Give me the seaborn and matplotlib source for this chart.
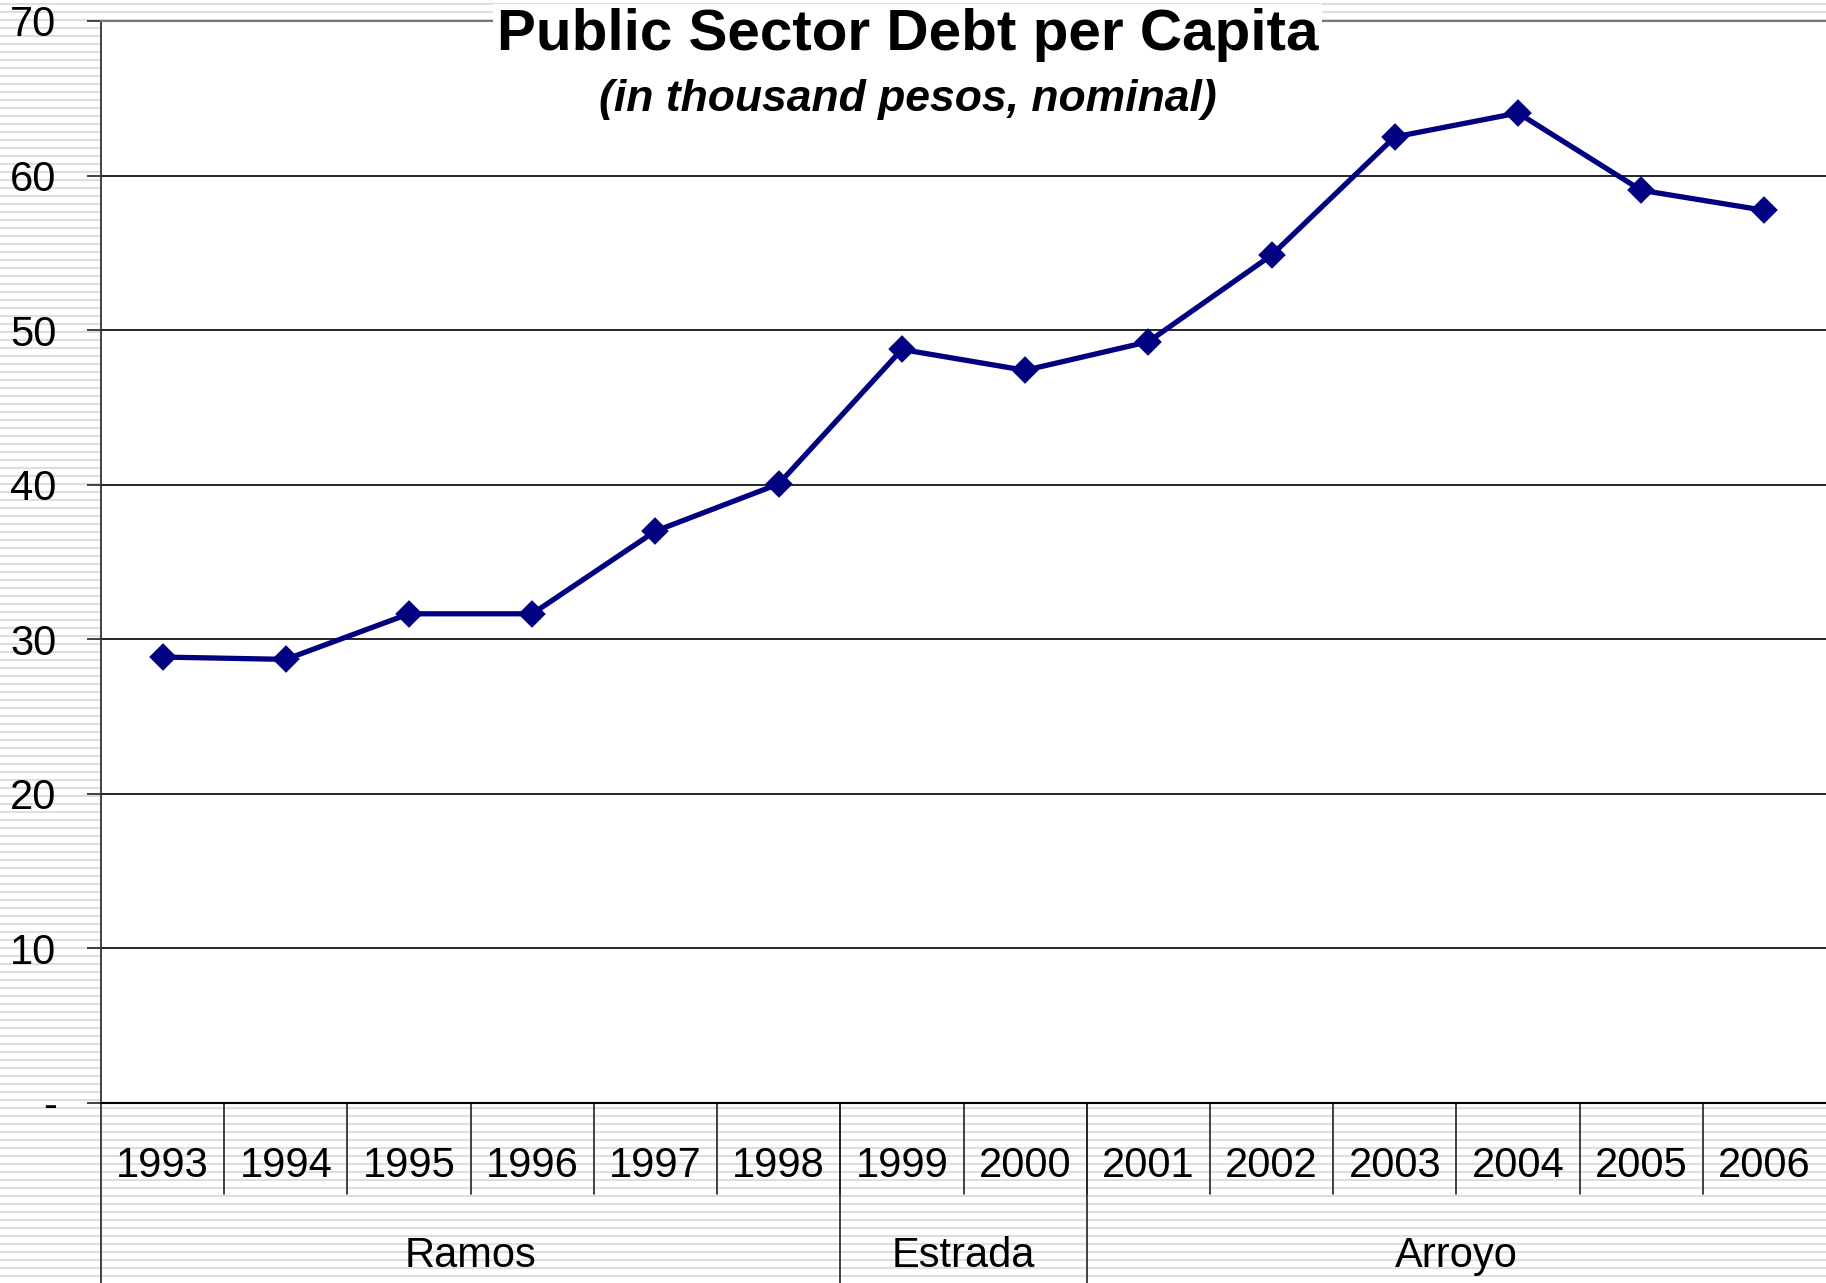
import numpy as np
import pandas as pd
import matplotlib
matplotlib.use("Agg")
import matplotlib.pyplot as plt
import matplotlib.transforms as mtransforms
import seaborn as sns

years = ["1993", "1994", "1995", "1996", "1997", "1998", "1999",
         "2000", "2001", "2002", "2003", "2004", "2005", "2006"]
debt = [28.85, 28.7, 31.65, 31.65, 37.0, 40.05, 48.75,
        47.4, 49.25, 54.85, 62.5, 64.05, 59.05, 57.75]
presidents = ["Ramos", "Estrada", "Arroyo"]
terms = [6, 2, 6]
yticks = [0, 10, 20, 30, 40, 50, 60, 70]
ytick_labels = ["-", "10", "20", "30", "40", "50", "60", "70"]

sns.set_style("white")
plt.rcParams["font.family"] = ["Liberation Sans", "DejaVu Sans"]
plt.rcParams["text.color"] = "black"
plt.rcParams["ytick.labelcolor"] = "black"

W, H, DPI = 1826, 1283, 100
fig = plt.figure(figsize=(W / DPI, H / DPI), dpi=DPI)
fig.patch.set_facecolor("white")

# striped chart-area background
bg = fig.add_axes([0, 0, 1, 1], zorder=-10)
bg.set_xlim(0, 1)
bg.set_ylim(0, H)
bg.hlines(np.arange(H - 4, 0, -8), 0, 1, color="#dedede", lw=1.5)
bg.axis("off")

left = 101 / W
bottom = 1 - 1103 / H
top = 1 - 21 / H
ax = fig.add_axes([left, bottom, 1 - left, top - bottom])
ax.set_facecolor("white")

df = pd.DataFrame({"Year": years, "Debt": debt})
sns.pointplot(data=df, x="Year", y="Debt", color="#000080", markers="D",
              markersize=11.5, linewidth=3.8, errorbar=None, ax=ax)

ax.set_xlim(-0.5, len(years) - 0.5)
ax.set_ylim(0, 70)
ax.set_yticks(yticks)
ax.set_yticklabels(ytick_labels, fontsize=30, color="black")
ax.tick_params(axis="y", direction="out", length=10, width=1.3,
               color="#333333", pad=22, left=True)
ax.set_xticks([])
ax.set_xlabel("")
ax.set_ylabel("")
ax.grid(axis="y", color="#000000", lw=1.2)
ax.set_axisbelow(True)
ax.spines["right"].set_visible(False)
ax.spines["top"].set_color("#777777")
ax.spines["top"].set_linewidth(1.5)
ax.spines["left"].set_color("#333333")
ax.spines["left"].set_linewidth(1.3)
ax.spines["bottom"].set_color("#000000")
ax.spines["bottom"].set_linewidth(1.5)

# multi-level category axis
trans = mtransforms.blended_transform_factory(ax.transData, ax.transAxes)
span = 1103 - 21
row1 = -(1194 - 1103) / span
axbottom = -(H - 1103) / span
for i, yr in enumerate(years):
    ax.text(i, -(1166 - 1103) / span, yr, transform=trans,
            ha="center", va="center", fontsize=30, color="black")
    if i > 0:
        ax.plot([i - 0.5, i - 0.5], [0, row1], transform=trans,
                color="#222222", lw=1.2, clip_on=False)
ax.plot([-0.5, -0.5], [0, axbottom], transform=trans, color="#333333",
        lw=1.3, clip_on=False)
start = 0
for name, n in zip(presidents, terms):
    ax.text(start - 0.5 + n / 2, -(1256 - 1103) / span, name,
            transform=trans, ha="center", va="center", fontsize=30,
            color="black")
    if start > 0:
        ax.plot([start - 0.5, start - 0.5], [0, axbottom], transform=trans,
                color="#222222", lw=1.2, clip_on=False)
    start += n

fig.text(0.497, 1 - 8 / H, "Public Sector Debt per Capita", ha="center",
         va="top", fontsize=42, fontweight="bold", color="black",
         bbox=dict(facecolor="white", edgecolor="none", pad=3), zorder=5)
fig.text(0.497, 1 - 99 / H, "(in thousand pesos, nominal)", ha="center",
         va="center", fontsize=32, fontweight="bold", fontstyle="italic",
         color="black")

fig.savefig("out.png", dpi=DPI)
